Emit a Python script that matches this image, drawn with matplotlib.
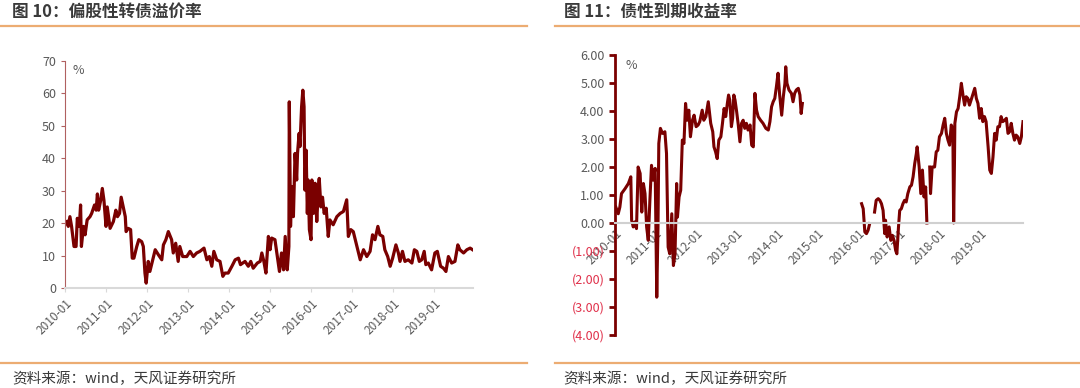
import numpy as np
import matplotlib
matplotlib.use('Agg')
import matplotlib.pyplot as plt

plt.rcParams['font.family'] = ['Noto Sans CJK SC', 'DejaVu Sans']

nan = np.nan

# time in years since 2010-01
t_prem = [0.04, 0.08, 0.12, 0.16, 0.22, 0.27, 0.30, 0.35, 0.38, 0.40,
          0.45, 0.49, 0.54, 0.61, 0.65, 0.72, 0.76, 0.79, 0.82, 0.87,
          0.91, 0.95, 1.00, 1.03, 1.10, 1.18, 1.24, 1.28, 1.33, 1.37,
          1.42, 1.47, 1.49, 1.54, 1.60, 1.64, 1.68, 1.75, 1.80, 1.87,
          1.91, 1.95, 1.98, 2.03, 2.07, 2.14, 2.20, 2.28, 2.36, 2.40,
          2.46, 2.52, 2.60, 2.64, 2.70, 2.76, 2.80, 2.87, 2.97, 3.05,
          3.13, 3.21, 3.29, 3.39, 3.46, 3.52, 3.58, 3.63, 3.70, 3.78,
          3.85, 3.90, 3.98, 4.07, 4.15, 4.23, 4.28, 4.39, 4.47, 4.53,
          4.59, 4.69, 4.76, 4.80, 4.85, 4.90, 4.96, 5.00, 5.04, 5.12,
          5.16, 5.23, 5.28, 5.33, 5.37, 5.42, 5.46, 5.47, 5.50, 5.53,
          5.57, 5.61, 5.65, 5.67, 5.71, 5.73, 5.77, 5.80, 5.83, 5.85,
          5.88, 5.91, 5.93, 5.96, 6.00, 6.02, 6.06, 6.10, 6.14, 6.18,
          6.20, 6.24, 6.28, 6.32, 6.37, 6.42, 6.46, 6.54, 6.63, 6.71,
          6.79, 6.87, 6.91, 6.97, 7.03, 7.10, 7.15, 7.20, 7.28, 7.36,
          7.44, 7.50, 7.56, 7.63, 7.68, 7.75, 7.80, 7.87, 7.93, 7.99,
          8.07, 8.13, 8.17, 8.23, 8.29, 8.37, 8.46, 8.52, 8.58, 8.64,
          8.70, 8.76, 8.80, 8.86, 8.94, 9.02, 9.08, 9.16, 9.23, 9.29,
          9.35, 9.43, 9.51, 9.58, 9.63, 9.72, 9.80, 9.88, 9.94]
premium = [20.5, 19, 22, 19, 12.8, 12.8, 21.5, 19, 25.6, 12.8,
           19, 16.4, 21, 22, 23, 25.6, 24, 29, 24, 27,
           30.7, 27, 19, 25, 18.4, 20.5, 24, 22, 23, 28,
           25, 22, 17.4, 18.4, 18, 9.2, 9.2, 12.8, 14.9, 14.3,
           12.8, 4.6, 1.5, 8.2, 5.1, 8.7, 11.8, 10.2, 8.7, 13.3,
           14.9, 17.4, 14.9, 10.8, 13.8, 8.2, 12.8, 9.7, 9.7, 11.3,
           9.7, 10.8, 11.3, 12.3, 8.7, 9.7, 6.7, 11.3, 8.7, 8.2,
           3.6, 4.6, 4.6, 6.7, 8.7, 9.2, 7.2, 8.2, 6.7, 8.2,
           6.1, 7.7, 8.2, 10.8, 8.2, 4.6, 15.9, 11.8, 15.4, 14.9,
           11.3, 5.1, 10.8, 5.6, 15.9, 5.6, 12.8, 57.4, 19, 31.3,
           22, 41.5, 33.3, 41.5, 47.7, 43.6, 55.9, 61, 55.9, 30.2,
           42.5, 23, 33.3, 18, 14.9, 33.3, 23, 32.3, 20.5, 31.3,
           33.8, 25, 28, 23, 24.6, 15.9, 21, 19.5, 22, 23,
           23.6, 27.2, 15.9, 18, 17.4, 13.8, 11.3, 8.7, 11.8, 9.7,
           11.3, 16.4, 14.9, 19, 16.4, 15.9, 11.8, 9.7, 6.7, 9.2,
           13.3, 10.8, 8.2, 11.3, 8.2, 8.7, 7.7, 11.8, 11.3, 8.2,
           8.7, 11.3, 7.2, 7.7, 5.6, 10.8, 11.3, 6.7, 6.1, 5.1,
           9.7, 7.7, 8.2, 13.3, 11.8, 10.8, 11.8, 12.3, 11.8]

t_ytm = [0.02, 0.08, 0.12, 0.16, 0.25, 0.33, 0.39, 0.41, 0.45, 0.49,
         0.53, 0.57, 0.62, 0.66, 0.70, 0.74, 0.78, 0.82, 0.86, 0.90,
         0.94, 0.99, 1.01, 1.03, 1.06, 1.08, 1.12, 1.17, 1.23, 1.27,
         1.31, 1.35, 1.40, 1.44, 1.48, 1.52, 1.54, 1.58, 1.62, 1.66,
         1.70, 1.74, 1.78, 1.82, 1.86, 1.91, 1.95, 2.00, 2.05, 2.09,
         2.15, 2.19, 2.24, 2.30, 2.36, 2.41, 2.44, 2.48, 2.52, 2.56,
         2.61, 2.65, 2.69, 2.73, 2.77, 2.80, 2.83, 2.87, 2.90, 2.93,
         2.96, 3.00, 3.04, 3.08, 3.12, 3.16, 3.20, 3.24, 3.28, 3.33,
         3.37, 3.41, 3.45, 3.49, 3.53, 3.59, 3.65, 3.72, 3.78, 3.82,
         3.86, 3.90, 3.94, 3.98, 4.02, 4.06, 4.11, 4.15, 4.19, 4.21,
         4.24, 4.29, 4.35, 4.39, 4.43, 4.47, 4.52, 4.56, 4.59, 4.62,
         5.30, 6.08, 6.12, 6.16, 6.20, 6.24, 6.28, 6.31, 6.40, 6.44,
         6.49, 6.53, 6.57, 6.61, 6.65, 6.67, 6.71, 6.76, 6.80, 6.84,
         6.88, 6.92, 6.95, 6.99, 7.02, 7.06, 7.10, 7.14, 7.18, 7.22,
         7.27, 7.31, 7.35, 7.39, 7.43, 7.45, 7.50, 7.54, 7.58, 7.62,
         7.66, 7.69, 7.72, 7.76, 7.78, 7.82, 7.88, 7.92, 7.96, 8.00,
         8.05, 8.09, 8.13, 8.17, 8.21, 8.25, 8.29, 8.33, 8.35, 8.37,
         8.38, 8.42, 8.46, 8.50, 8.54, 8.58, 8.62, 8.66, 8.70, 8.74,
         8.78, 8.83, 8.87, 8.91, 8.95, 8.99, 9.03, 9.07, 9.11, 9.15,
         9.20, 9.24, 9.28, 9.32, 9.36, 9.40, 9.44, 9.48, 9.52, 9.56,
         9.61, 9.65, 9.69, 9.73, 9.77, 9.81, 9.85, 9.89, 9.93, 9.98,
         10.02, 10.06]
ytm = [0.57, 0.33, 0.57, 1.05, 1.23, 1.41, 1.65, 0.1, -0.14, 0.04,
       -0.2, 2.0, 1.77, 0.39, 1.41, 1.05, -0.14, -0.62, 0.81, 2.06,
       1.53, 1.95, -0.38, -2.65, -0.14, 2.84, 3.38, 3.2, 3.26, 2.48,
       -0.86, -1.1, 0.33, -1.52, -1.1, 1.41, 0.21, 0.93, 1.17, 2.96,
       2.84, 4.27, 3.67, 4.03, 3.08, 3.67, 3.85, 3.44, 3.5, 3.62,
       4.03, 3.67, 3.8, 4.33, 3.56, 3.26, 2.72, 2.54, 2.3, 2.96,
       3.08, 3.56, 4.09, 3.8, 4.27, 4.57, 4.39, 3.44, 3.74, 4.57,
       4.39, 3.97, 3.5, 2.9, 3.56, 3.67, 3.38, 3.56, 3.32, 3.5,
       2.78, 2.72, 4.63, 4.03, 3.8, 3.67, 3.56, 3.38, 3.32, 3.62,
       4.15, 4.33, 4.45, 4.87, 5.35, 4.57, 3.85, 4.51, 4.99, 5.58,
       4.99, 4.75, 4.63, 4.33, 4.63, 4.75, 4.81, 4.57, 3.91, 4.27,
       nan, 0.69, 0.51, -0.32, -0.38, -0.26, -0.02, nan, 0.39, 0.81,
       0.87, 0.81, 0.69, 0.45, -0.38, 0.1, -0.5, -0.14, -0.62, -0.44,
       -0.62, -0.98, -1.1, -0.14, 0.45, 0.51, 0.69, 0.81, 0.75, 1.05,
       1.29, 1.35, 1.65, 2.12, 2.48, 2.72, 2.0, 1.05, 1.89, 0.93,
       1.29, 0.0, nan, 2.0, 1.05, 2.0, 2.0, 2.54, 2.6, 3.08,
       3.2, 3.5, 3.74, 3.2, 2.96, 2.78, 3.5, 3.38, 0.0, 2.12,
       3.56, 3.97, 4.09, 4.51, 4.99, 4.57, 4.21, 4.51, 4.45, 4.21,
       4.39, 4.63, 4.81, 4.45, 4.27, 3.74, 4.09, 3.62, 3.8, 3.62,
       2.72, 1.89, 1.77, 2.36, 3.2, 2.96, 3.44, 3.44, 3.8, 3.62,
       3.67, 3.74, 3.2, 3.26, 3.56, 3.2, 2.96, 3.14, 3.08, 2.84,
       3.08, 3.62]

year_ticks = list(range(10))
year_labels = ['%d-01' % (2010 + i) for i in year_ticks]

title_left = '图 10：偏股性转债溢价率'
title_right = '图 11：债性到期收益率'
source = '资料来源：wind，天风证券研究所'

line_c = '#7a0000'
grey_txt = '#595959'
orange = '#ecac72'

fig = plt.figure(figsize=(10.8, 3.88), dpi=100)

# headers / footers
for x0, x1, tx, title in [(0.0, 0.488, 0.011, title_left), (0.514, 1.0, 0.522, title_right)]:
    fig.add_artist(plt.Line2D([x0, x1], [1 - 26 / 388] * 2, color=orange, lw=1.6))
    fig.add_artist(plt.Line2D([x0, x1], [1 - 363 / 388] * 2, color=orange, lw=1.6))
    fig.text(tx, 1 - 12 / 388, title, fontsize=12, fontweight='bold', color='#3a3a3a', va='center')
    fig.text(tx, 1 - 379 / 388, source, fontsize=10.5, color='#3a3a3a', va='center')

# left chart
ax1 = fig.add_axes([65 / 1080, 1 - 288 / 388, 408 / 1080, 227 / 388])
ax1.plot(t_prem, premium, color=line_c, lw=2.3)
ax1.set_xlim(0, 9.95)
ax1.set_ylim(0, 70)
ax1.set_yticks(range(0, 71, 10))
ax1.set_xticks(year_ticks)
ax1.set_xticklabels(year_labels, rotation=45, ha='right', rotation_mode='anchor')
for s in ['top', 'right']:
    ax1.spines[s].set_visible(False)
ax1.spines['left'].set_color('#b06060')
ax1.spines['left'].set_linewidth(0.8)
ax1.spines['bottom'].set_color('#d9d9d9')
ax1.spines['bottom'].set_linewidth(1.5)
ax1.tick_params(axis='y', colors='#b06060', labelcolor=grey_txt, labelsize=9, length=3, width=0.8)
ax1.tick_params(axis='x', colors='#d9d9d9', labelcolor=grey_txt, labelsize=8.5, length=3, width=0.8)
ax1.text(0.018, 0.985, '%', transform=ax1.transAxes, fontsize=9, color=grey_txt, va='top')

# right chart
ax2 = fig.add_axes([615 / 1080, 1 - 335 / 388, 408 / 1080, 280 / 388])
ax2.plot(t_ytm, ytm, color=line_c, lw=2.2)
ax2.set_xlim(0, 10.06)
ax2.set_ylim(-4, 6)
for s in ['top', 'right']:
    ax2.spines[s].set_visible(False)
ax2.spines['bottom'].set_position(('data', 0))
ax2.spines['bottom'].set_color('#d0d0d0')
ax2.spines['bottom'].set_linewidth(1.5)
ax2.spines['left'].set_color(line_c)
ax2.spines['left'].set_linewidth(2.0)
yt = np.arange(-4, 7, 1)
ax2.set_yticks(yt)
ax2.set_yticklabels(['(%.2f)' % -v if v < 0 else '%.2f' % v for v in yt])
ax2.set_xticks(year_ticks)
ax2.set_xticklabels(year_labels, rotation=45, ha='right', rotation_mode='anchor')
ax2.tick_params(axis='y', colors=line_c, labelsize=9, length=4, width=2.0)
for lab, v in zip(ax2.get_yticklabels(), yt):
    lab.set_color('#e0304a' if v < 0 else grey_txt)
ax2.tick_params(axis='x', length=0, labelcolor=grey_txt, labelsize=8.5, pad=3)
ax2.text(0.025, 0.985, '%', transform=ax2.transAxes, fontsize=9, color=grey_txt, va='top')

fig.savefig('out.png', dpi=100)
